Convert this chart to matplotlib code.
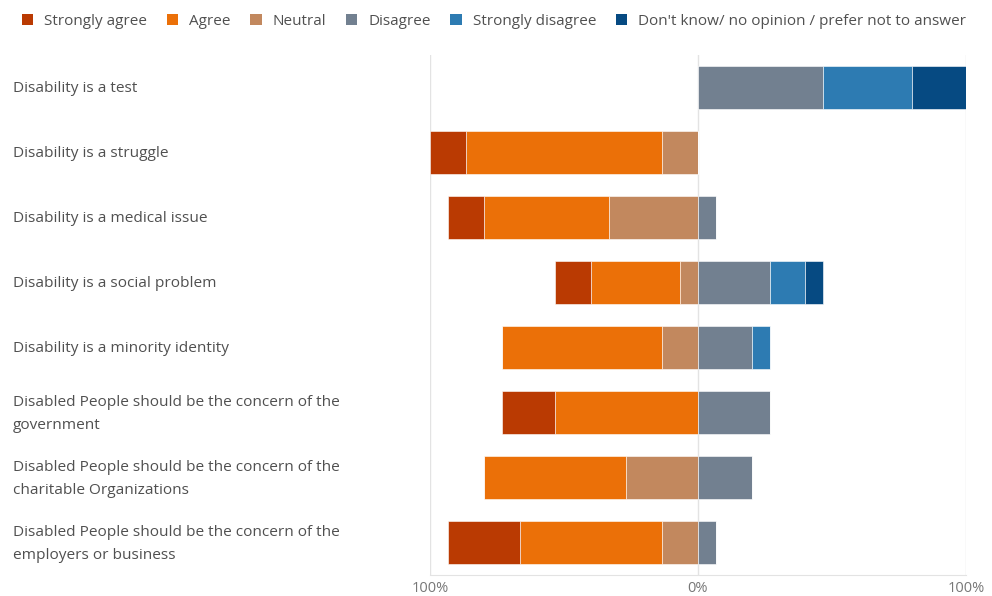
import matplotlib.pyplot as plt
from matplotlib.patches import Patch
from matplotlib.transforms import blended_transform_factory
from matplotlib.ticker import FuncFormatter

plt.rcParams['font.family'] = ['Open Sans', 'DejaVu Sans']

statements = [
    "Disability is a test",
    "Disability is a struggle",
    "Disability is a medical issue",
    "Disability is a social problem",
    "Disability is a minority identity",
    "Disabled People should be the concern of the\ngovernment",
    "Disabled People should be the concern of the\ncharitable Organizations",
    "Disabled People should be the concern of the\nemployers or business",
]

# percentages of respondents
strongly_agree    = [0.0, 13.3, 13.3, 13.3, 0.0, 20.0, 0.0, 26.7]
agree             = [0.0, 73.3, 46.7, 33.3, 60.0, 53.3, 53.3, 53.3]
neutral           = [0.0, 13.3, 33.3, 6.7, 13.3, 0.0, 26.7, 13.3]
disagree          = [46.7, 0.0, 6.7, 26.7, 20.0, 26.7, 20.0, 6.7]
strongly_disagree = [33.3, 0.0, 0.0, 13.3, 6.7, 0.0, 0.0, 0.0]
dont_know         = [20.0, 0.0, 0.0, 6.7, 0.0, 0.0, 0.0, 0.0]

names = ["Strongly agree", "Agree", "Neutral", "Disagree", "Strongly disagree",
         "Don't know/ no opinion / prefer not to answer"]
colors = ["#BA3A02", "#EB7008", "#C2885E", "#728090", "#2D7BB2", "#064A82"]

fig = plt.figure(figsize=(9.92, 5.96), dpi=100)
ax = fig.add_axes([430 / 992, 1 - 575 / 596, 536 / 992, 520 / 596])

y = list(range(len(statements)))
h = 0.66
kw = dict(height=h, edgecolor='white', linewidth=0.4, zorder=3)

# agree side grows to the left from 0: neutral, agree, strongly agree
left = [0.0] * len(y)
for vals, c in [(neutral, colors[2]), (agree, colors[1]), (strongly_agree, colors[0])]:
    ax.barh(y, [-v for v in vals], left=left, color=c, **kw)
    left = [l - v for l, v in zip(left, vals)]

# disagree side grows to the right
left = [0.0] * len(y)
for vals, c in [(disagree, colors[3]), (strongly_disagree, colors[4]), (dont_know, colors[5])]:
    ax.barh(y, vals, left=left, color=c, **kw)
    left = [l + v for l, v in zip(left, vals)]

ax.set_xlim(-100, 100)
ax.set_ylim(len(y) - 0.5, -0.5)
ax.set_xticks([-100, 0, 100])
ax.xaxis.set_major_formatter(FuncFormatter(lambda v, p: f"{abs(v):.0f}%"))
ax.tick_params(axis='x', length=0, pad=4, labelsize=10.5, labelcolor='#777777')
ax.set_yticks([])
ax.grid(axis='x', color='#e3e3e3', linewidth=1, zorder=0)
for s in ['top', 'left', 'right']:
    ax.spines[s].set_visible(False)
ax.spines['bottom'].set_color('#e3e3e3')

trans = blended_transform_factory(fig.transFigure, ax.transData)
for i, s in enumerate(statements):
    ax.text(13 / 992, i + 0.02, s, transform=trans, ha='left', va='center',
            fontsize=11.1, color='#505050', linespacing=1.75)

handles = [Patch(facecolor=c, edgecolor='none') for c in colors]
fig.legend(handles, names, loc='upper left', bbox_to_anchor=(0.008, 1.0), ncol=6,
           frameon=False, handlelength=0.75, handleheight=0.75, handletextpad=0.7,
           columnspacing=1.3, fontsize=11, labelcolor='#505050')

plt.savefig('out.png', dpi=100)
